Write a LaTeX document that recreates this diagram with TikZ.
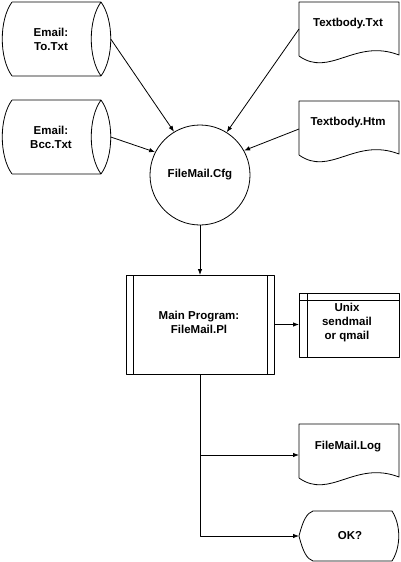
\documentclass[tikz,border=0pt]{standalone}
\usepackage{fontspec}
\setmainfont{Liberation Sans}
\usetikzlibrary{arrows.meta}
\newcommand{\docpath}[1]{(299,{#1+54}) -- (299,#1) -- (399,#1) -- (399,{#1+53}) .. controls (355,{#1+36}) and (330,{#1+76}) .. (299,{#1+54})}
\tikzset{
  ln/.style={line width=0.8pt, line join=round},
  arr/.style={ln, -{Latex[length=6pt,width=4.5pt]}},
  area/.style={rectangle, inner sep=0pt, outer sep=0pt, draw=none},
  txt/.style={align=center, inner sep=0pt, font=\fontsize{11.5}{14}\selectfont\bfseries},
}
\begin{document}
\begin{tikzpicture}[x=1pt,y=-1pt]
\useasboundingbox (0,0) rectangle (400,562);
\fill[white] (0,0) rectangle (400,562);

% cylinders
\node[area, minimum width=108.75pt, minimum height=74pt] (to) at (56.375,39) {};
\node[txt] (toT) at (51,39) {Email:\\To.Txt};
\draw[ln] (12,2) -- (101,2) (12,76) -- (101,76)
  (12,2) .. controls (-1,20) and (-1,58) .. (12,76)
  (101,2) .. controls (114,20) and (114,58) .. (101,76)
  (101,2) .. controls (88,20) and (88,58) .. (101,76);

\node[area, minimum width=108.75pt, minimum height=74pt] (bcc) at (56.375,137) {};
\node[txt] (bccT) at (51,137) {Email:\\Bcc.Txt};
\draw[ln] (12,100) -- (101,100) (12,174) -- (101,174)
  (12,100) .. controls (-1,118) and (-1,156) .. (12,174)
  (101,100) .. controls (114,118) and (114,156) .. (101,174)
  (101,100) .. controls (88,118) and (88,156) .. (101,174);

% documents
\node[area, minimum width=100pt, minimum height=54pt] (txtdoc) at (349,29) {};
\node[txt] (txtT) at (348,24) {Textbody.Txt};
\draw[ln] \docpath{2};

\node[area, minimum width=100pt, minimum height=54pt] (htm) at (349,129) {};
\node[txt] (htmT) at (348,123) {Textbody.Htm};
\draw[ln] \docpath{101};

\node[area, minimum width=100pt, minimum height=54pt] (log) at (349,455) {};
\node[txt] (logT) at (348,447) {FileMail.Log};
\draw[ln] \docpath{424};

% config circle
\node[ln, draw, circle, minimum size=100pt, inner sep=0pt, txt] (cfg) at (200,175) {FileMail.Cfg};

% main program
\node[area, ln, draw, minimum width=148pt, minimum height=99pt] (main) at (200,324.5) {};
\draw[ln] (133,275) -- (133,374) (267,275) -- (267,374);
\node[txt] (mainT) at (199,322) {Main Program:\\FileMail.Pl};

% unix
\node[area, ln, draw, minimum width=100pt, minimum height=64pt] (unix) at (349,325) {};
\draw[ln] (299,300) -- (399,300) (307,293) -- (307,357);
\node[txt] (unixT) at (347,323) {Unix\\sendmail\\or qmail};

% OK?
\node[area, minimum width=100pt, minimum height=50pt] (ok) at (349,536) {};
\node[txt] (okT) at (350,536) {OK?};
\draw[ln] (299,536) .. controls (303,520) and (307,513) .. (313,511) -- (392,511)
  .. controls (401,525) and (401,547) .. (392,561) -- (313,561)
  .. controls (307,559) and (303,552) .. (299,536) -- cycle;

% connectors
\draw[arr] (to.east) -- (cfg.121);
\draw[arr] (bcc.east) -- (cfg.153);
\draw[arr] (txtdoc.west) -- (cfg.58);
\draw[arr] (htm.west) -- (cfg.29);
\draw[arr] (cfg.south) -- (main.north);
\draw[arr] (main.east) -- (main.east -| unix.west);
\coordinate (j1) at (200,455);
\draw[ln] (main.south) -- (j1);
\draw[arr] (j1) -- (j1 -| log.west);
\draw[arr] (j1) |- (ok.west);
\end{tikzpicture}
\end{document}
